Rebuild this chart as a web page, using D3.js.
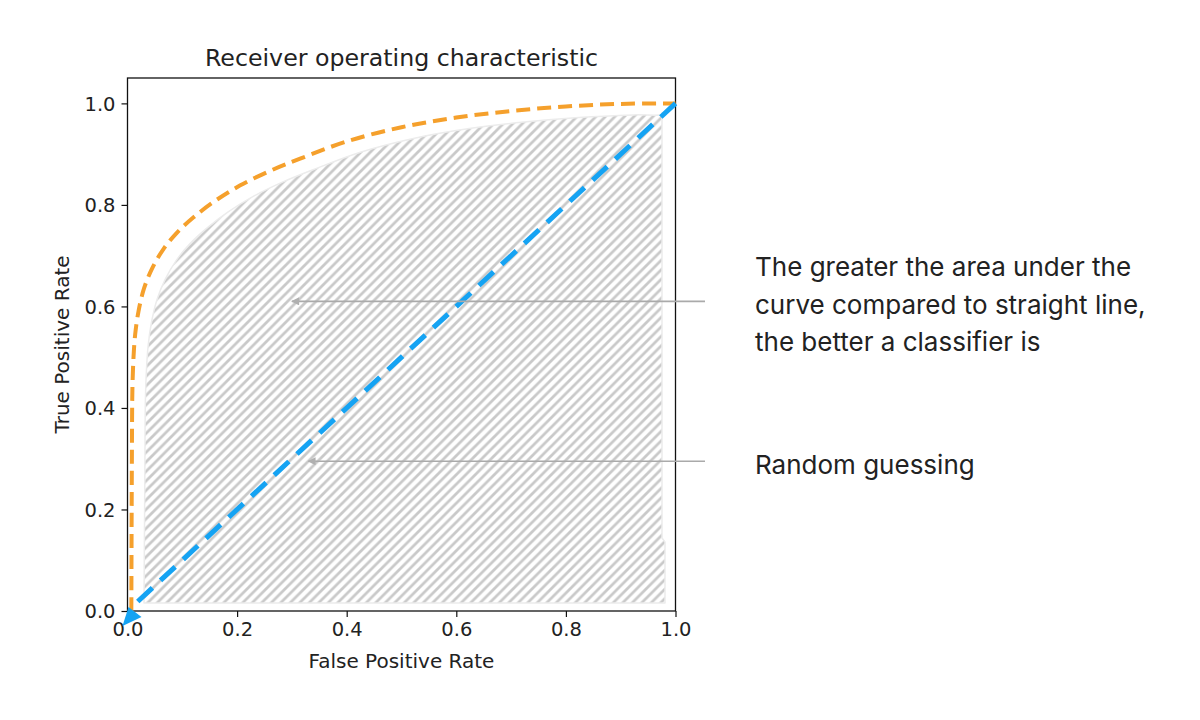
<!DOCTYPE html>
<html>
<head>
<meta charset="utf-8">
<script src="https://cdn.jsdelivr.net/npm/d3@7/dist/d3.min.js"></script>
<style>
  html, body { margin: 0; padding: 0; background: #fff; }
  svg { display: block; }
</style>
</head>
<body>
<svg id="chart" width="1200" height="720"></svg>
<script>
// ---- data ----
const fpr = [0.007, 0.008, 0.009, 0.011, 0.014, 0.02, 0.03, 0.045, 0.065, 0.09, 0.12, 0.16, 0.205, 0.26, 0.315, 0.4, 0.5, 0.6, 0.7, 0.8, 0.9, 1.0];
const tpr = [0, 0.3, 0.44, 0.5, 0.545, 0.59, 0.635, 0.675, 0.712, 0.745, 0.775, 0.808, 0.838, 0.867, 0.891, 0.925, 0.953, 0.972, 0.985, 0.994, 0.999, 1.0];
const randomX = [0, 1];
const randomY = [0, 1];
const xTicks = [0.0, 0.2, 0.4, 0.6, 0.8, 1.0];
const yTicks = [0.0, 0.2, 0.4, 0.6, 0.8, 1.0];
const title = "Receiver operating characteristic";
const xLabel = "False Positive Rate";
const yLabel = "True Positive Rate";
const noteAreaLines = ["The greater the area under the", "curve compared to straight line,", "the better a classifier is"];
const noteAreaTarget = [0.3, 0.61];
const noteRandom = ["Random guessing"];
const noteRandomTarget = [0.33, 0.295];

// ---- layout ----
const svg = d3.select("#chart");
const L = 127.5, R = 675.5, B = 611, T = 78;
const x = d3.scaleLinear().domain([0, 1]).range([L, R]);
const y = d3.scaleLinear().domain([0, 1.05]).range([B, T]);

const defs = svg.append("defs");
const W = 9.5;
const pat = defs.append("pattern")
  .attr("id", "hatch").attr("patternUnits", "userSpaceOnUse")
  .attr("width", W).attr("height", W);
pat.append("rect").attr("width", W).attr("height", W).attr("fill", "#fff");
pat.append("path")
  .attr("d", `M${-W / 2},${W / 2} L${W / 2},${-W / 2} M0,${W} L${W},0 M${W / 2},${W * 1.5} L${W * 1.5},${W / 2}`)
  .attr("stroke", "#c9c9c9").attr("stroke-width", 2.7);

defs.append("marker").attr("id", "grayHead")
  .attr("viewBox", "0 0 10 10").attr("refX", 9).attr("refY", 5)
  .attr("markerWidth", 6.5).attr("markerHeight", 5).attr("markerUnits", "strokeWidth")
  .attr("orient", "auto")
  .append("path").attr("d", "M0,0 L10,5 L0,10 Z").attr("fill", "#b0b0b0");

// ---- hatched area (inset of ROC curve) ----
const pts = fpr.map((d, i) => [x(d), y(tpr[i])]);
const inset = pts.map(p => [Math.min(Math.max(p[0] + 13, 144), 662), Math.max(p[1] + 11, 113)]);
const hatchPts = [[144, 603]].concat(inset.filter(p => p[1] < 595)).concat([[662, 113]]);
svg.append("path")
  .attr("d", d3.line().curve(d3.curveCatmullRom.alpha(0.5))(hatchPts) + "L662,538L665,542L665,603Z")
  .attr("fill", "url(#hatch)")
  .attr("stroke", "#ececec").attr("stroke-width", 1.5).attr("stroke-linejoin", "round");

// ---- frame ----
svg.append("rect").attr("x", L).attr("y", T).attr("width", R - L).attr("height", B - T)
  .attr("fill", "none").attr("stroke", "#111").attr("stroke-width", 1.3);

// ---- axes ----
const fmt = d3.format(".1f");
const gx = svg.append("g").attr("transform", `translate(0,${B})`)
  .call(d3.axisBottom(x).tickValues(xTicks).tickFormat(fmt).tickSize(6).tickPadding(5));
const gy = svg.append("g").attr("transform", `translate(${L},0)`)
  .call(d3.axisLeft(y).tickValues(yTicks).tickFormat(fmt).tickSize(6).tickPadding(6));
[gx, gy].forEach(g => {
  g.select(".domain").remove();
  g.selectAll(".tick line").attr("stroke", "#111").attr("stroke-width", 1.2);
  g.selectAll(".tick text").attr("fill", "#222").style("font-family", "DejaVu Sans").style("font-size", "19.5px");
});
gy.selectAll(".tick text").attr("dy", "0.35em");

svg.append("text").attr("x", (L + R) / 2).attr("y", 66).attr("text-anchor", "middle")
  .style("font-family", "DejaVu Sans").style("font-size", "23.7px").attr("fill", "#222").text(title);
svg.append("text").attr("x", (L + R) / 2).attr("y", 668).attr("text-anchor", "middle")
  .style("font-family", "DejaVu Sans").style("font-size", "20px").attr("fill", "#222").text(xLabel);
svg.append("text").attr("transform", `translate(69,${(B + T) / 2}) rotate(-90)`).attr("text-anchor", "middle")
  .style("font-family", "DejaVu Sans").style("font-size", "20px").attr("fill", "#222").text(yLabel);

// ---- lines ----
svg.append("path")
  .attr("d", d3.line().x(d => x(d[0])).y(d => y(d[1])).curve(d3.curveCatmullRom.alpha(0.5))(fpr.map((d, i) => [d, tpr[i]])))
  .attr("fill", "none").attr("stroke", "#f5a02c").attr("stroke-width", 4)
  .attr("stroke-dasharray", "14,7");

const x0 = x(randomX[0]), y0 = y(randomY[0]);
svg.append("path")
  .attr("d", d3.line().x(d => x(d[0])).y(d => y(d[1]))([[randomX[1], randomY[1]], [randomX[0] + 0.014, randomY[0] + 0.014]]))
  .attr("fill", "none").attr("stroke", "#15a3f3").attr("stroke-width", 5)
  .attr("stroke-dasharray", "20,11");
// arrowhead at the origin end of the random-guess line
svg.append("path")
  .attr("d", `M${x0 - 5},${y0 + 15} L${x0 + 1},${y0 - 4} L${x0 + 14},${y0 + 6} Z`)
  .attr("fill", "#15a3f3");

// ---- annotations ----
const noteX = 755;
function arrow(target) {
  svg.append("line")
    .attr("x1", 705).attr("y1", y(target[1]))
    .attr("x2", x(target[0])).attr("y2", y(target[1]))
    .attr("stroke", "#aaaaaa").attr("stroke-width", 1.6)
    .attr("marker-end", "url(#grayHead)");
}
arrow(noteAreaTarget);
arrow(noteRandomTarget);

const t1 = svg.append("text").attr("x", noteX).attr("y", 276)
  .style("font-family", "Inter").style("font-size", "26px").attr("fill", "#222");
noteAreaLines.forEach((s, i) => t1.append("tspan").attr("x", noteX).attr("y", 276 + i * 37.5).text(s));
svg.append("text").attr("x", noteX).attr("y", 474)
  .style("font-family", "Inter").style("font-size", "26px").attr("fill", "#222")
  .text(noteRandom[0]);
</script>
</body>
</html>
